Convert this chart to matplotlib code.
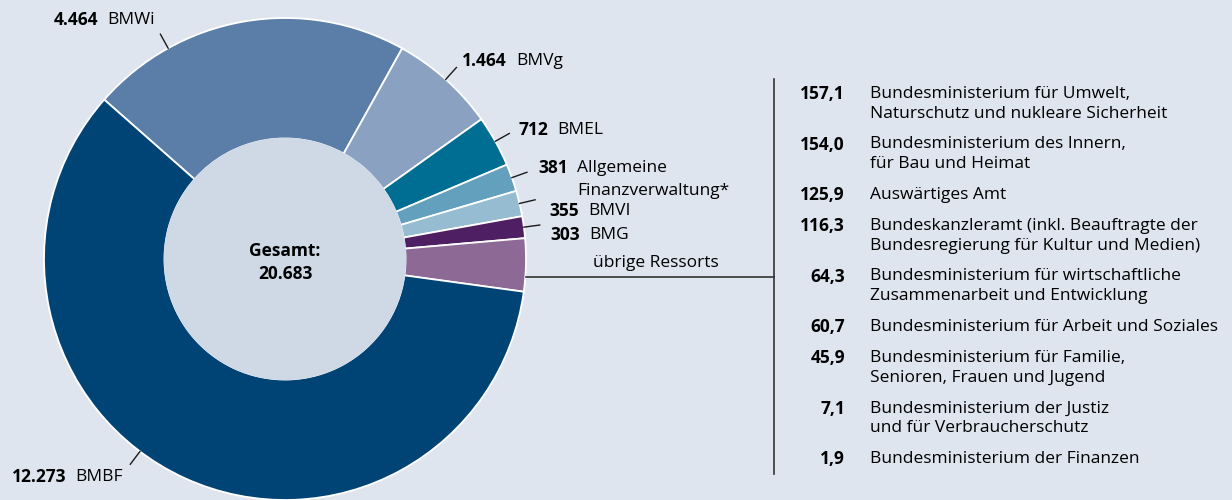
import numpy as np
import matplotlib
matplotlib.use("Agg")
import matplotlib.pyplot as plt

plt.rcParams['font.family'] = ['Open Sans', 'DejaVu Sans']

# Ressorts im Ring (Mio. Euro)
ring_names = ["BMWi", "BMVg", "BMEL", "Allgemeine\nFinanzverwaltung*", "BMVI", "BMG", "übrige Ressorts", "BMBF"]
ring_values = [4464, 1464, 712, 381, 355, 303, None, 12273]
ring_colors = ["#5a7ea8", "#8aa1c2", "#006d93", "#63a0be", "#95bcd0", "#4e1f63", "#8c6a95", "#004475"]
gesamt = 20683

# übrige Ressorts (Mio. Euro)
rest_values = [157.1, 154.0, 125.9, 116.3, 64.3, 60.7, 45.9, 7.1, 1.9]
rest_names = [
    "Bundesministerium für Umwelt,\nNaturschutz und nukleare Sicherheit",
    "Bundesministerium des Innern,\nfür Bau und Heimat",
    "Auswärtiges Amt",
    "Bundeskanzleramt (inkl. Beauftragte der\nBundesregierung für Kultur und Medien)",
    "Bundesministerium für wirtschaftliche\nZusammenarbeit und Entwicklung",
    "Bundesministerium für Arbeit und Soziales",
    "Bundesministerium für Familie,\nSenioren, Frauen und Jugend",
    "Bundesministerium der Justiz\nund für Verbraucherschutz",
    "Bundesministerium der Finanzen",
]
ring_values[6] = sum(rest_values)

bg = "#dfe5ef"
inner_col = "#cfd9e6"
fs = 12.5

W, H = 1232, 500
fig = plt.figure(figsize=(W / 100, H / 100), dpi=100, facecolor=bg)
ax = fig.add_axes([0, 0, 1, 1])

def Y(py):
    return H - py

cx, cy, R = 285, Y(259), 241
wedges, _ = ax.pie(ring_values, colors=ring_colors, startangle=138.6, counterclock=False,
                   radius=R, center=(cx, cy), frame=True,
                   wedgeprops=dict(width=R * 0.5, edgecolor="white", linewidth=1.3))
ax.set_xlim(0, W)
ax.set_ylim(0, H)
ax.set_aspect("equal")
ax.set_facecolor(bg)
ax.axis("off")
ax.add_patch(plt.Circle((cx, cy), R * 0.5, color=inner_col, zorder=3))

ax.text(cx, Y(251), "Gesamt:", ha="center", va="center", fontsize=fs, fontweight="bold", zorder=4)
ax.text(cx, Y(274), f"{gesamt:,}".replace(",", "."), ha="center", va="center",
        fontsize=fs, fontweight="bold", zorder=4)

# labels: (bold right edge x, y) ; leader angle override
label_pos = [(98, 20), (507, 61), (548, 130), (568, 168), (579, 211), (580, 235), None, (66, 477)]
leader_ang = [119, None, None, None, None, None, None, 233]

for i, w in enumerate(wedges):
    if label_pos[i] is None:
        continue
    ang = leader_ang[i] if leader_ang[i] is not None else (w.theta1 + w.theta2) / 2
    a = np.deg2rad(ang)
    ax.plot([cx + R * np.cos(a), cx + (R + 16) * np.cos(a)],
            [cy + R * np.sin(a), cy + (R + 16) * np.sin(a)], color="#1a1a1a", lw=1)
    bx, by = label_pos[i]
    ax.text(bx, Y(by), f"{ring_values[i]:,}".replace(",", "."), ha="right", va="center",
            fontsize=fs, fontweight="bold")
    name = ring_names[i]
    ax.text(bx + 9, Y(by), name.split("\n")[0], ha="left", va="center", fontsize=fs)
    if "\n" in name:
        ax.text(bx + 9, Y(by + 23), name.split("\n")[1], ha="left", va="center", fontsize=fs)

# übrige Ressorts bracket
ax.text(593, Y(263), "übrige Ressorts", ha="left", va="center", fontsize=fs)
ax.plot([526, 774], [Y(277), Y(277)], color="#333333", lw=1.2)
ax.plot([774, 774], [Y(79), Y(474)], color="#333333", lw=1.2)

y = 94
for v, n in zip(rest_values, rest_names):
    ax.text(845, Y(y), f"{v:.1f}".replace(".", ","), ha="right", va="center", fontsize=fs, fontweight="bold")
    lines = n.split("\n")
    for k, ln in enumerate(lines):
        ax.text(870, Y(y + 19.5 * k), ln, ha="left", va="center", fontsize=fs)
    y += 19.5 * len(lines) + 11.5

fig.savefig("out.png", dpi=100, facecolor=bg)
